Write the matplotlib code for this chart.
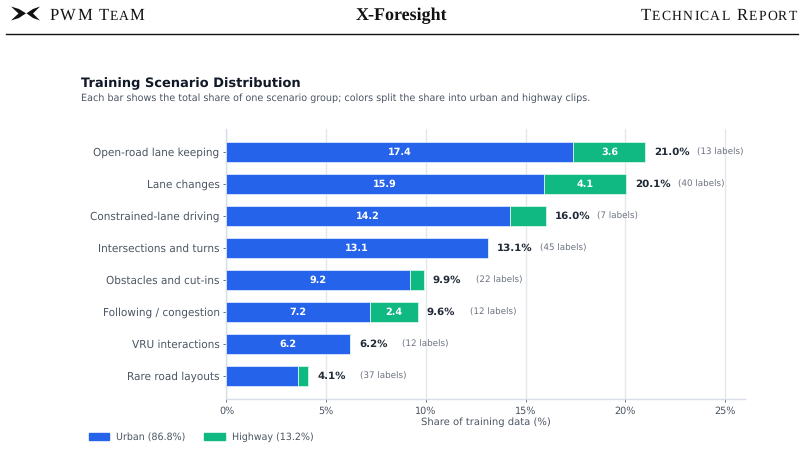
import matplotlib
matplotlib.use('Agg')
import matplotlib.pyplot as plt
import matplotlib.ticker as mticker
from matplotlib.lines import Line2D
from matplotlib.patches import Patch, Polygon

plt.rcParams['text.hinting'] = 'no_hinting'

W, H = 804, 449

scenarios = ['Open-road lane keeping', 'Lane changes', 'Constrained-lane driving',
             'Intersections and turns', 'Obstacles and cut-ins', 'Following / congestion',
             'VRU interactions', 'Rare road layouts']
urban = [17.4, 15.9, 14.2, 13.1, 9.2, 7.2, 6.2, 3.6]
highway = [3.6, 4.14, 1.8, 0.0, 0.7, 2.4, 0.0, 0.5]
totals = [21.0, 20.1, 16.0, 13.1, 9.9, 9.6, 6.2, 4.1]
label_counts = [13, 40, 7, 45, 22, 12, 12, 37]
x_ticks = [0, 5, 10, 15, 20, 25]

BLUE = '#2563eb'
GREEN = '#10b981'
INK = '#1f2937'
SLATE = '#4b5563'
GREY = '#6b7280'
GRID = '#e5e7eb'


def fx(px):
    return px / W


def fy(py):
    return 1 - py / H


def small_caps(fig, x, y, word, tracking, full_caps='PWM'):
    # first letter of each word is full size, the rest are small capitals
    renderer = fig.canvas.get_renderer()
    first = True
    for ch in word:
        if ch == ' ':
            x += 12.0 * 100 / 72 * 0.25 + tracking
            first = True
            continue
        size = 12.0 if first or ch in full_caps else 9.8
        t = fig.text(fx(x), fy(y), ch, fontsize=size, family='Liberation Serif',
                     color='#111111', va='baseline', ha='left')
        x += t.get_window_extent(renderer).width + tracking
        first = False


fig = plt.figure(figsize=(W / 100, H / 100), dpi=100)
ax = fig.add_axes([fx(226.5), fy(399), fx(745 - 226.5), (399 - 129) / H])

# header band
small_caps(fig, 50, 20, 'PWM TEAM', 1.1)
fig.text(fx(401.5), fy(20), 'X-Foresight', fontsize=13, family='Liberation Serif',
         weight='bold', color='#111111', ha='center', va='baseline')
small_caps(fig, 640.5, 20, 'TECHNICAL REPORT', 1.25, full_caps='')
fig.add_artist(Line2D([fx(6), fx(798)], [fy(34), fy(34)], color='#111111', lw=1.0))

# logo, two mirrored wings
left_wing = [(11, 6.5), (19, 9), (26, 13.3), (19, 18), (11, 20.5), (18.5, 13.5)]
right_wing = [(40, 6.5), (33, 9), (26.5, 13.3), (33, 18), (40, 20.5), (33, 13.5)]
for wing in (left_wing, right_wing):
    fig.add_artist(Polygon([(fx(a), fy(b)) for a, b in wing], closed=True,
                           transform=fig.transFigure, color='#111111', lw=0))

fig.text(fx(81), fy(87.5), 'Training Scenario Distribution', fontsize=9.35, weight='bold',
         color='#111827', va='baseline')
fig.text(fx(81), fy(101), 'Each bar shows the total share of one scenario group; '
         'colors split the share into urban and highway clips.', fontsize=6.92,
         color=SLATE, va='baseline')

# stacked bars
rows = range(len(scenarios))
ax.barh(rows, urban, height=0.61, color=BLUE, edgecolor='#dbe4ff', linewidth=0.6, zorder=3)
ax.barh(rows, highway, left=urban, height=0.61, color=GREEN, edgecolor='#d5f5ea',
        linewidth=0.6, zorder=3)

for i in rows:
    # short segments and the smallest group stay unlabelled
    if urban[i] >= 5:
        ax.text(urban[i] / 2, i, f'{urban[i]:.1f}', color='white', fontsize=6.9, weight='bold',
                ha='center', va='center', zorder=4)
    if highway[i] >= 2:
        ax.text(urban[i] + highway[i] / 2, i, f'{highway[i]:.1f}', color='white', fontsize=6.9,
                weight='bold', ha='center', va='center', zorder=4)
    end = urban[i] + highway[i]
    ax.text(end + 0.45, i, f'{totals[i]:.1f}%', color=INK, fontsize=7.4, weight='bold',
            ha='left', va='center', zorder=4)
    ax.text(end + 2.6, i, f'({label_counts[i]} labels)', color=GREY, fontsize=6.3,
            ha='left', va='center', zorder=4)

ax.set_ylim(7.72, -0.72)
ax.set_xlim(0, 26)
ax.set_yticks(list(rows))
ax.set_yticklabels(scenarios)
ax.set_xticks(x_ticks)
ax.xaxis.set_major_formatter(mticker.FuncFormatter(lambda v, pos: f'{v:.0f}%'))
ax.tick_params(axis='y', labelsize=7.58, labelcolor=SLATE, length=2.5, width=0.7, pad=2.5, color=GREY)
ax.tick_params(axis='x', labelsize=6.9, labelcolor=SLATE, length=2.5, width=0.7, pad=2.5, color=GREY)
ax.set_xlabel('Share of training data (%)', fontsize=7.2, color=SLATE, labelpad=1.5)
ax.xaxis.grid(True, color=GRID, lw=1.0, zorder=0)
ax.set_axisbelow(True)
for side in ('top', 'right'):
    ax.spines[side].set_visible(False)
for side in ('left', 'bottom'):
    ax.spines[side].set_color('#d8dee9')
    ax.spines[side].set_linewidth(1.0)

handles = [Patch(color=BLUE, label='Urban (86.8%)'), Patch(color=GREEN, label='Highway (13.2%)')]
fig.legend(handles=handles, loc='center left', bbox_to_anchor=(fx(81), fy(437)), ncol=2,
           frameon=False, fontsize=6.85, handlelength=2.15, handleheight=0.75,
           handletextpad=0.74, columnspacing=2.0, labelcolor=SLATE, borderpad=0.3)

fig.savefig('out.png', dpi=100)
